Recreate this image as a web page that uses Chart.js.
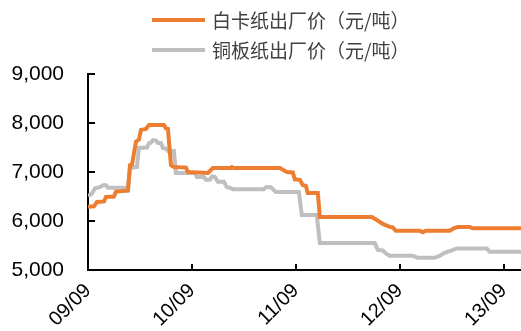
<!DOCTYPE html>
<html>
<head>
<meta charset="utf-8">
<script src="https://cdn.jsdelivr.net/npm/chart.js@4/dist/chart.umd.min.js"></script>
<style>
  html, body { margin: 0; padding: 0; background: #fff; }
  #wrap { position: relative; width: 521px; height: 331px; }
</style>
</head>
<body>
<div id="wrap"><canvas id="c" width="521" height="331"></canvas></div>
<script>
// Time axis: months elapsed since 2009/09
const tickMonths = [0, 12, 24, 36, 48];
const tickLabels = ['09/09', '10/09', '11/09', '12/09', '13/09'];

// 白卡纸出厂价 (元/吨)
const whiteBoardMonths = [0, 0.69, 1.04, 1.85, 2.08, 3.00, 3.23, 4.62, 4.85, 5.08, 5.54, 5.88, 6.12, 6.69, 7.04, 8.77, 9.00, 9.23, 9.58, 9.92, 11.31, 11.54, 13.85, 14.42, 16.50, 16.62, 16.85, 22.15, 22.96, 23.65, 23.88, 24.46, 24.81, 25.15, 25.38, 26.54, 26.77, 32.77, 33.35, 34.04, 34.85, 35.19, 35.54, 38.31, 38.65, 39.00, 41.77, 42.23, 42.69, 44.08, 44.42, 50];
const whiteBoardPrices = [6290, 6300, 6390, 6400, 6490, 6500, 6600, 6620, 7140, 7150, 7620, 7660, 7860, 7880, 7960, 7960, 7890, 7880, 7140, 7100, 7090, 7000, 6980, 7080, 7080, 7100, 7080, 7080, 7000, 6990, 6850, 6840, 6730, 6720, 6570, 6570, 6080, 6080, 6020, 5940, 5880, 5870, 5800, 5800, 5770, 5800, 5800, 5850, 5880, 5880, 5850, 5850];

// 铜板纸出厂价 (元/吨)
const coatedMonths = [0, 0.46, 0.81, 1.38, 1.73, 2.08, 2.31, 4.62, 4.85, 5.65, 5.88, 6.81, 7.04, 7.27, 7.50, 7.85, 8.08, 8.42, 8.65, 9.00, 9.23, 9.92, 10.15, 12.35, 12.58, 13.38, 13.62, 14.08, 14.31, 14.65, 15.00, 15.69, 16.04, 16.38, 16.73, 20.31, 20.54, 21.12, 21.35, 21.69, 24.35, 24.69, 26.42, 26.77, 33.12, 33.46, 34.04, 34.38, 34.85, 37.50, 38.08, 40.04, 40.62, 41.19, 42.00, 42.58, 46.04, 46.38, 50];
const coatedPrices = [6510, 6560, 6670, 6690, 6730, 6730, 6680, 6680, 7080, 7100, 7490, 7500, 7590, 7600, 7650, 7640, 7590, 7590, 7490, 7480, 7430, 7430, 6980, 6980, 6900, 6900, 6840, 6840, 6910, 6900, 6800, 6800, 6690, 6680, 6650, 6650, 6690, 6690, 6650, 6590, 6590, 6120, 6120, 5550, 5550, 5410, 5400, 5340, 5290, 5290, 5250, 5250, 5290, 5350, 5400, 5440, 5440, 5370, 5370];

const seriesNames = ['白卡纸出厂价（元/吨）', '铜板纸出厂价（元/吨）'];
const seriesColors = ['#ED7D31', '#BFBFBF'];

const toPoints = (xs, ys) => xs.map((x, i) => ({ x: x, y: ys[i] }));

// Inward-pointing tick marks on both axes
const innerTicks = {
  id: 'innerTicks',
  afterDatasetsDraw(chart) {
    const { ctx, chartArea, scales } = chart;
    ctx.save();
    ctx.strokeStyle = '#000';
    ctx.lineWidth = 2;
    ctx.beginPath();
    scales.y.ticks.forEach(t => {
      const y = Math.round(scales.y.getPixelForValue(t.value));
      ctx.moveTo(chartArea.left, y);
      ctx.lineTo(chartArea.left + 7, y);
    });
    scales.x.ticks.forEach(t => {
      const x = Math.round(scales.x.getPixelForValue(t.value));
      ctx.moveTo(x, chartArea.bottom);
      ctx.lineTo(x, chartArea.bottom - 6);
    });
    ctx.stroke();
    ctx.restore();
  }
};

// Two-row legend above the plot
const stackedLegend = {
  id: 'stackedLegend',
  afterDraw(chart) {
    const { ctx } = chart;
    ctx.save();
    ctx.font = '19px "Noto Sans CJK SC", sans-serif';
    ctx.textBaseline = 'middle';
    ctx.textAlign = 'left';
    chart.data.datasets.forEach((ds, i) => {
      const y = 20 + i * 30;
      ctx.strokeStyle = ds.borderColor;
      ctx.lineWidth = 4;
      ctx.beginPath();
      ctx.moveTo(152, y);
      ctx.lineTo(205, y);
      ctx.stroke();
      ctx.fillStyle = '#404040';
      ctx.fillText(ds.label, 212, y + 1);
    });
    ctx.restore();
  }
};

new Chart(document.getElementById('c'), {
  type: 'line',
  data: {
    datasets: [
      {
        label: seriesNames[0],
        data: toPoints(whiteBoardMonths, whiteBoardPrices),
        borderColor: seriesColors[0],
        borderWidth: 4,
        pointRadius: 0,
        tension: 0,
        fill: false
      },
      {
        label: seriesNames[1],
        data: toPoints(coatedMonths, coatedPrices),
        borderColor: seriesColors[1],
        borderWidth: 4,
        pointRadius: 0,
        tension: 0,
        fill: false
      }
    ]
  },
  options: {
    responsive: false,
    animation: false,
    devicePixelRatio: 1,
    layout: { padding: { top: 74, right: 0, left: 0, bottom: 0 } },
    plugins: {
      legend: { display: false },
      tooltip: { enabled: false }
    },
    scales: {
      x: {
        type: 'linear',
        min: 0,
        max: 50,
        afterBuildTicks(scale) {
          scale.ticks = tickMonths.map(v => ({ value: v }));
        },
        afterFit(scale) {
          scale.height = 61;
          scale.paddingLeft = 0;
          scale.paddingRight = 0;
        },
        border: { display: true, color: '#000', width: 2 },
        grid: { display: true, drawOnChartArea: false, drawTicks: false },
        ticks: {
          autoSkip: false,
          minRotation: 45,
          maxRotation: 45,
          padding: 9,
          color: '#000',
          font: { family: '"Liberation Sans", Arial, sans-serif', size: 20 },
          callback: (v) => tickLabels[tickMonths.indexOf(v)]
        }
      },
      y: {
        min: 5000,
        max: 9000,
        afterFit(scale) {
          scale.width = 88;
          scale.paddingTop = 0;
          scale.paddingBottom = 0;
        },
        border: { display: true, color: '#000', width: 2 },
        grid: { display: true, drawOnChartArea: false, drawTicks: false },
        ticks: {
          stepSize: 1000,
          padding: 24,
          color: '#000',
          font: { family: '"Liberation Sans", Arial, sans-serif', size: 21 },
          callback: (v) => v.toLocaleString('en-US')
        }
      }
    }
  },
  plugins: [innerTicks, stackedLegend]
});
</script>
</body>
</html>
